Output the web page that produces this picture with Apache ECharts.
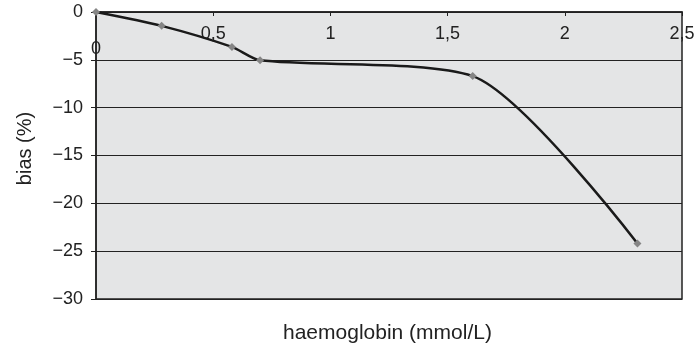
<!DOCTYPE html>
<html>
<head>
<meta charset="utf-8">
<script src="https://cdn.jsdelivr.net/npm/echarts@6/dist/echarts.min.js"></script>
<style>
  html, body { margin: 0; padding: 0; background: #fff; }
  #chart { width: 699px; height: 346px; }
</style>
</head>
<body>
<div id="chart"></div>
<script>
// haemoglobin (mmol/L) vs bias (%)
var haemoglobin = [0, 0.28, 0.58, 0.70, 1.607, 2.31];
var bias = [0, -1.45, -3.65, -5.05, -6.7, -24.2];
var xTicks = [0, 0.5, 1, 1.5, 2, 2.5];
var yTicks = [0, -5, -10, -15, -20, -25, -30];

var points = haemoglobin.map(function (h, i) { return [h, bias[i]]; });
var font = 'Liberation Sans, Arial, sans-serif';

var chart = echarts.init(document.getElementById('chart'));
var option = {
  animation: false,
  grid: {
    left: 96, right: 17, top: 12, bottom: 47,
    show: true,
    backgroundColor: '#e4e5e6',
    borderColor: '#222',
    borderWidth: 1.5
  },
  graphic: [{
    type: 'text',
    left: 283,
    top: 323,
    style: { text: 'haemoglobin (mmol/L)', font: '21px ' + font, fill: '#222' }
  }],
  xAxis: {
    type: 'value',
    position: 'top',
    min: xTicks[0],
    max: xTicks[xTicks.length - 1],
    interval: 0.5,
    axisLine: { onZero: false, lineStyle: { color: '#222', width: 1.5 } },
    axisTick: { inside: true, length: 4, lineStyle: { color: '#222' } },
    splitLine: { show: false },
    axisLabel: {
      inside: true,
      margin: 13,
      fontFamily: font,
      fontSize: 18,
      color: '#222',
      formatter: function (v) {
        if (v === 0) return '{z|0}';
        return String(v).replace('.', ',');
      },
      rich: { z: { fontFamily: font, fontSize: 18, color: '#222', padding: [15, 0, 0, 0] } }
    }
  },
  yAxis: {
    type: 'value',
    min: yTicks[yTicks.length - 1],
    max: yTicks[0],
    interval: 5,
    name: 'bias (%)',
    nameLocation: 'middle',
    nameGap: 61,
    nameTextStyle: { fontFamily: font, fontSize: 20, color: '#222', padding: [0, 0, 0, 14] },
    axisLine: { show: true, lineStyle: { color: '#222', width: 1.5 } },
    axisTick: { show: true, length: 5, lineStyle: { color: '#222' } },
    splitLine: { show: true, lineStyle: { color: '#222', width: 1 } },
    axisLabel: {
      margin: 13,
      fontFamily: font,
      fontSize: 18,
      color: '#222',
      formatter: function (v) { return String(v).replace('-', '\u2212'); }
    }
  },
  series: [{
    type: 'line',
    data: points,
    smooth: 0.25,
    symbol: 'diamond',
    symbolSize: 8,
    itemStyle: { color: '#858585' },
    lineStyle: { color: '#1a1a1a', width: 2.5 },
    z: 3
  }]
};
chart.setOption(option);
</script>
</body>
</html>
